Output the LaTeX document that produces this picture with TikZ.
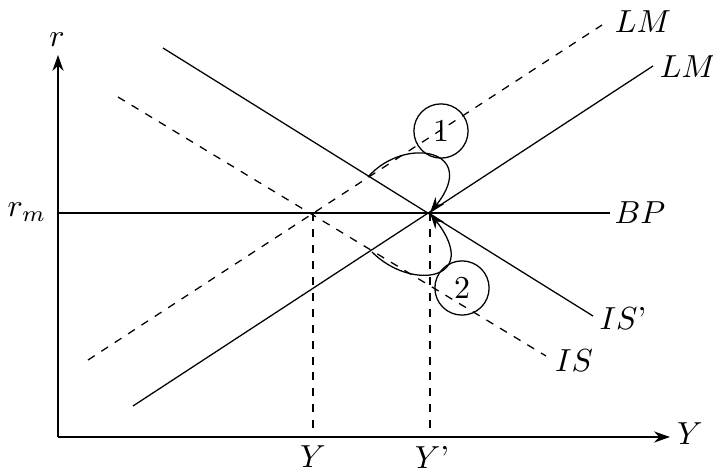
\documentclass[tikz,border=0pt]{standalone}
\usepackage{tikz}
\usetikzlibrary{arrows.meta,positioning,calc}

\begin{document}
\begin{tikzpicture}[x=0.3135pt, y=-0.3135pt,
  curve/.style={thin},
  dcurve/.style={thin, dash pattern=on 2.5pt off 2.5pt},
  lab/.style={inner sep=1pt},
  num/.style={circle, draw, thin, minimum size=17pt, inner sep=0pt, font=\normalsize},
  arr/.style={-{Stealth[length=5pt,width=3.5pt]}, thin}
]
  \useasboundingbox (0,0) rectangle (713,471);
  % axes
  \coordinate (o) at (58,437);
  \coordinate (ytop) at (58,55);
  \coordinate (xend) at (670,437);
  \draw[arr] (o) -- (ytop);
  \draw[arr] (o) -- (xend);
  \node[lab] (rlab) at (57,40) {$r$};
  \node[lab] (ylab) at (690,434) {$Y$};
  % equilibrium points
  \coordinate (e0) at (313,213);
  \coordinate (e1) at (430,213);
  % BP line
  \node[lab] (rm) at (27,212) {$r_m$};
  \coordinate (bpa) at (58,213);
  \coordinate (bpb) at (610,213);
  \draw[curve] (bpa) -- (bpb);
  \node[lab] (bplab) at (640,213) {$BP$};
  % LM curves
  \coordinate (lma) at (133,406); \coordinate (lmb) at (653,66);
  \draw[curve] (lma) -- (lmb);
  \node[lab] (lmlab) at (688,67) {$LM$};
  \coordinate (lmda) at (88,360); \coordinate (lmdb) at (602,25);
  \draw[dcurve] (lmda) -- (lmdb);
  \node[lab] (lmdlab) at (643,22) {$LM$};
  % IS curves
  \coordinate (isa) at (163,48); \coordinate (isb) at (593,316);
  \draw[curve] (isa) -- (isb);
  \node[lab] (islab) at (623,318) {$IS$'};
  \coordinate (isda) at (118,97); \coordinate (isdb) at (546,356);
  \draw[dcurve] (isda) -- (isdb);
  \node[lab] (isdlab) at (574,361) {$IS$};
  % output levels
  \coordinate (y0) at (313,437); \coordinate (y1) at (430,437);
  \draw[dcurve] (e0) -- (y0);
  \draw[dcurve] (e1) -- (y1);
  \node[lab] (y0lab) at (313,457) {$Y$};
  \node[lab] (y1lab) at (432,457) {$Y$'};
  % adjustment paths
  \node[num] (c1) at (441,131) {1};
  \node[num] (c2) at (462,288) {2};
  \coordinate (s1) at (368,177);
  \coordinate (s2) at (372,252);
  \draw[arr] (s1) .. controls (405,135) and (480,150) .. (e1);
  \draw[arr] (s2) .. controls (412,292) and (482,280) .. (e1);
\end{tikzpicture}
\end{document}
